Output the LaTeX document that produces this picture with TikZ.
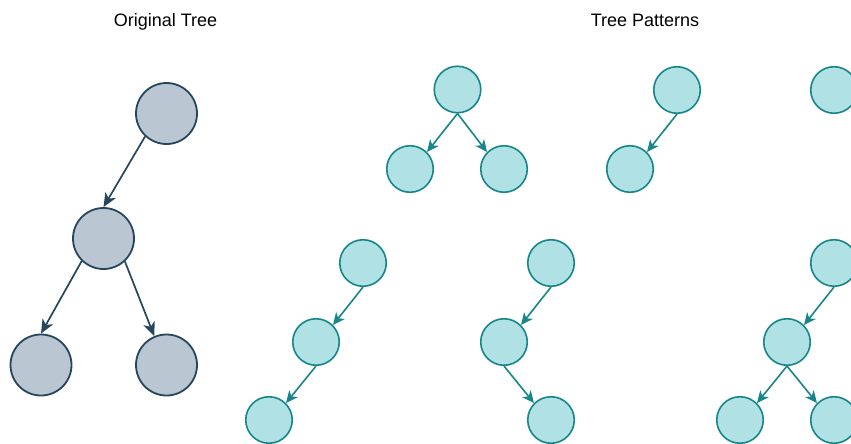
\documentclass[tikz,border=0pt]{standalone}
\usepackage{fontspec}
\setmainfont{Liberation Sans}
\usetikzlibrary{arrows.meta}

\definecolor{slatefill}{RGB}{186,199,210}
\definecolor{slateline}{RGB}{38,70,94}
\definecolor{tealfill}{RGB}{176,225,228}
\definecolor{tealline}{RGB}{22,134,138}

\begin{document}
\begin{tikzpicture}[x=1pt,y=-1pt,
orignode/.style={
  draw=slateline,
  fill=slatefill,
  circle,
  line width=1.8pt,
  minimum size=61pt,
  inner sep=0pt},
patnode/.style={
  draw=tealline,
  fill=tealfill,
  circle,
  line width=1.6pt,
  minimum size=46.5pt,
  inner sep=0pt},
origedge/.style={draw=slateline, line width=1.7pt, -{Stealth[length=14pt,width=12pt,inset=4pt]}},
patedge/.style={draw=tealline, line width=1.6pt, -{Stealth[length=12pt,width=11pt,inset=3.5pt]}},
title/.style={font=\fontsize{18}{21}\selectfont, anchor=base}
]
\useasboundingbox (0,0) rectangle (851,444);

\node[title] (ttree) at (165.5,26.5) {Original Tree};
\node[title] (tpat) at (645,26.5) {Tree Patterns};

% original tree
\node[orignode] (r1) at (166.5,113.5) {};
\node[orignode] (r2) at (103.5,238.5) {};
\node[orignode] (r3) at (41,365) {};
\node[orignode] (r4) at (166.5,365) {};
\draw[origedge] (r1.227) -- (r2.north);
\draw[origedge] (r2.226) -- (r3.north);
\draw[origedge] (r2.313) -- (r4.113);

% patterns, first row
\node[patnode] (a1) at (457.5,89.5) {};
\node[patnode] (a2) at (410,169) {};
\node[patnode] (a3) at (504,169) {};
\draw[patedge] (a1.south) -- (a2.45);
\draw[patedge] (a1.south) -- (a3.135);

\node[patnode] (b1) at (677,90) {};
\node[patnode] (b2) at (630,169) {};
\draw[patedge] (b1.south) -- (b2.45);

\node[patnode] (c1) at (834,90) {};

% patterns, second row
\node[patnode] (d1) at (363,263) {};
\node[patnode] (d2) at (316,342) {};
\node[patnode] (d3) at (269,420) {};
\draw[patedge] (d1.south) -- (d2.45);
\draw[patedge] (d2.south) -- (d3.45);

\node[patnode] (e1) at (551,263) {};
\node[patnode] (e2) at (504,342) {};
\node[patnode] (e3) at (551,420) {};
\draw[patedge] (e1.south) -- (e2.45);
\draw[patedge] (e2.south) -- (e3.135);

\node[patnode] (f1) at (834,263) {};
\node[patnode] (f2) at (787,342) {};
\node[patnode] (f3) at (740,420) {};
\node[patnode] (f4) at (834,420) {};
\draw[patedge] (f1.south) -- (f2.45);
\draw[patedge] (f2.south) -- (f3.45);
\draw[patedge] (f2.south) -- (f4.135);
\end{tikzpicture}
\end{document}
